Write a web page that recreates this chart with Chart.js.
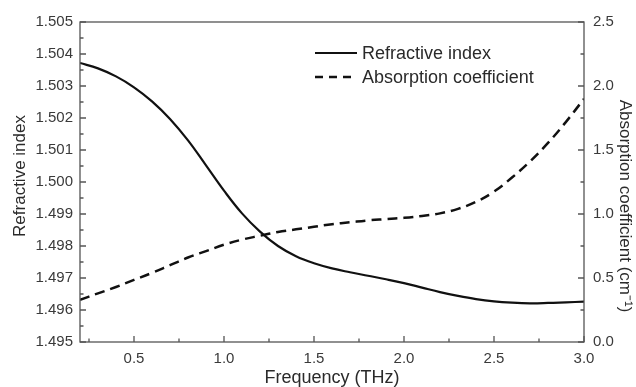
<!DOCTYPE html>
<html lang="en">
<head>
  <meta charset="UTF-8">
  <title>Refractive index and absorption coefficient</title>
  <script src="https://cdn.jsdelivr.net/npm/chart.js"></script>
  <style>
    body {
      margin: 0;
      padding: 0;
      background: #fff;
    }

    #wrap {
      width: 636px;
      height: 387px;
      position: relative;
    }
  </style>
</head>
<body>
  <div id="wrap">
    <canvas id="chart"></canvas>
  </div>

  <script>
    // values
    const frequency = [0.2, 0.3, 0.4, 0.5, 0.6, 0.7, 0.8, 0.9, 1.0, 1.1, 1.2, 1.3, 1.4, 1.5, 1.6,
      1.7, 1.8, 1.9, 2.0, 2.1, 2.2, 2.3, 2.4, 2.5, 2.6, 2.7, 2.8, 2.9, 3.0];
    const refractiveIndex = [1.50372, 1.50355, 1.50330, 1.50296, 1.50252, 1.50197, 1.50130, 1.50052,
      1.49973, 1.49902, 1.49845, 1.49800, 1.49768, 1.49746, 1.49730, 1.49718, 1.49707, 1.49696,
      1.49684, 1.49670, 1.49656, 1.49644, 1.49634, 1.49627, 1.49623, 1.49621, 1.49622, 1.49624, 1.49626];
    const absorption = [0.33, 0.38, 0.43, 0.485, 0.54, 0.60, 0.66, 0.71, 0.76, 0.80, 0.83, 0.86, 0.88,
      0.90, 0.92, 0.935, 0.95, 0.96, 0.97, 0.985, 1.005, 1.04, 1.095, 1.175, 1.285, 1.41, 1.555, 1.72, 1.90];

    const xTicks = [0.5, 1.0, 1.5, 2.0, 2.5, 3.0];
    const leftTicks = [1.495, 1.496, 1.497, 1.498, 1.499, 1.500, 1.501, 1.502, 1.503, 1.504, 1.505];
    const rightTicks = [0.0, 0.5, 1.0, 1.5, 2.0, 2.5];

    const FONT = 'Liberation Sans, Arial, sans-serif';
    const TEXT = '#3a3a3a';
    const AXIS = '#555';

    // minor ticks halfway between the labelled ones
    function minorTicks(majors, min, max) {
      const step = majors[1] - majors[0];
      const out = [];
      for (let k = -2; k < majors.length + 1; k++) {
        const m = majors[0] + (k + 0.5) * step;
        if (m >= min - 1e-9 && m <= max + 1e-9) out.push(m);
      }
      return out;
    }

    const framePlugin = {
      id: 'frame',
      afterDraw(chart) {
        const { ctx, chartArea: a, scales } = chart;
        ctx.save();

        // box
        ctx.strokeStyle = AXIS;
        ctx.lineWidth = 1.3;
        ctx.strokeRect(a.left, a.top, a.right - a.left, a.bottom - a.top);

        // inward ticks
        ctx.beginPath();
        const x = scales.x, yl = scales.y, yr = scales.y1;
        xTicks.forEach(v => { const p = x.getPixelForValue(v); ctx.moveTo(p, a.bottom); ctx.lineTo(p, a.bottom - 6); });
        minorTicks(xTicks, x.min, x.max).forEach(v => { const p = x.getPixelForValue(v); ctx.moveTo(p, a.bottom); ctx.lineTo(p, a.bottom - 3.5); });
        leftTicks.forEach(v => { const p = yl.getPixelForValue(v); ctx.moveTo(a.left, p); ctx.lineTo(a.left + 6, p); });
        minorTicks(leftTicks, yl.min, yl.max).forEach(v => { const p = yl.getPixelForValue(v); ctx.moveTo(a.left, p); ctx.lineTo(a.left + 3.5, p); });
        rightTicks.forEach(v => { const p = yr.getPixelForValue(v); ctx.moveTo(a.right, p); ctx.lineTo(a.right - 6, p); });
        minorTicks(rightTicks, yr.min, yr.max).forEach(v => { const p = yr.getPixelForValue(v); ctx.moveTo(a.right, p); ctx.lineTo(a.right - 3.5, p); });
        ctx.stroke();

        // axis titles
        ctx.fillStyle = '#2a2a2a';
        ctx.textAlign = 'center';
        ctx.textBaseline = 'middle';
        ctx.font = '18px ' + FONT;
        ctx.fillText('Frequency (THz)', (a.left + a.right) / 2, 378);

        ctx.save();
        ctx.font = '17px ' + FONT;
        ctx.translate(20, 176);
        ctx.rotate(-Math.PI / 2);
        ctx.fillText('Refractive index', 0, 0);
        ctx.restore();

        ctx.save();
        ctx.font = '17px ' + FONT;
        ctx.translate(625, 206);
        ctx.rotate(Math.PI / 2);
        ctx.fillText('Absorption coefficient (cm\u207B\u00B9)', 0, 0);
        ctx.restore();

        // legend in the upper right of the plot
        ctx.textAlign = 'left';
        ctx.font = '18px ' + FONT;
        chart.data.datasets.forEach((ds, i) => {
          const ly = 53 + i * 24;
          ctx.beginPath();
          ctx.strokeStyle = ds.borderColor;
          ctx.lineWidth = ds.borderWidth;
          ctx.setLineDash(i === 0 ? [] : [8, 6]);
          ctx.moveTo(315, ly);
          ctx.lineTo(357, ly);
          ctx.stroke();
          ctx.setLineDash([]);
          ctx.fillText(ds.label, 362, ly + 1);
        });

        ctx.restore();
      }
    };

    const tickFont = { family: FONT, size: 15 };

    new Chart(document.getElementById('chart'), {
      type: 'line',
      data: {
        datasets: [
          {
            label: 'Refractive index',
            data: frequency.map((f, i) => ({ x: f, y: refractiveIndex[i] })),
            yAxisID: 'y',
            borderColor: '#111',
            borderWidth: 2.2,
            pointRadius: 0,
            tension: 0.4,
          },
          {
            label: 'Absorption coefficient',
            data: frequency.map((f, i) => ({ x: f, y: absorption[i] })),
            yAxisID: 'y1',
            borderColor: '#111',
            borderWidth: 2.5,
            borderDash: [10, 6],
            pointRadius: 0,
            tension: 0.4,
          },
        ],
      },
      options: {
        responsive: true,
        maintainAspectRatio: false,
        animation: false,
        layout: { padding: { top: 22, left: 0, right: 0, bottom: 0 } },
        plugins: {
          legend: { display: false },
          tooltip: { enabled: false },
        },
        scales: {
          x: {
            type: 'linear',
            position: 'bottom',
            min: 0.2,
            max: 3.0,
            grid: { display: false, drawTicks: false },
            border: { display: false },
            afterBuildTicks: s => { s.ticks = xTicks.map(v => ({ value: v })); },
            afterFit: s => { s.height = 45; },
            ticks: {
              font: tickFont,
              color: TEXT,
              padding: 8,
              maxRotation: 0,
              autoSkip: false,
              callback: v => Number(v).toFixed(1),
            },
          },
          y: {
            type: 'linear',
            position: 'left',
            min: 1.495,
            max: 1.505,
            grid: { display: false, drawTicks: false },
            border: { display: false },
            afterBuildTicks: s => { s.ticks = leftTicks.map(v => ({ value: v })); },
            afterFit: s => { s.width = 80; },
            ticks: {
              font: tickFont,
              color: TEXT,
              padding: 7,
              autoSkip: false,
              callback: v => Number(v).toFixed(3),
            },
          },
          y1: {
            type: 'linear',
            position: 'right',
            min: 0,
            max: 2.5,
            grid: { display: false, drawTicks: false },
            border: { display: false },
            afterBuildTicks: s => { s.ticks = rightTicks.map(v => ({ value: v })); },
            afterFit: s => { s.width = 52; },
            ticks: {
              font: tickFont,
              color: TEXT,
              padding: 9,
              autoSkip: false,
              callback: v => Number(v).toFixed(1),
            },
          },
        },
      },
      plugins: [framePlugin],
    });
  </script>
</body>
</html>
